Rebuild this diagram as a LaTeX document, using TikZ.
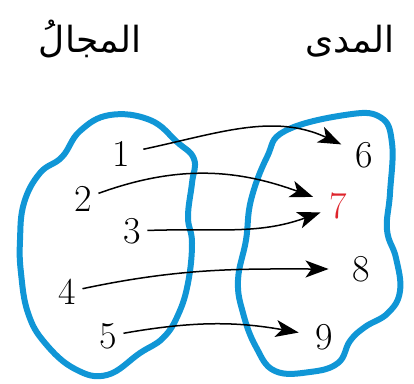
\documentclass[tikz,border=0pt]{standalone}
\usepackage{fontspec}
\newfontfamily\arabicfont[Script=Arabic]{DejaVu Sans}
\TeXXeTstate=1
\usepackage{tikz}
\usetikzlibrary{arrows.meta,positioning}
\definecolor{setblue}{RGB}{16,150,214}
\definecolor{elemred}{RGB}{222,36,44}
\tikzset{>={Stealth[length=23pt,width=17pt,inset=6pt]},x=1pt,y=1pt}
\tikzset{elem/.style={font=\fontsize{38}{40}\selectfont,inner sep=6pt}}
\tikzset{setname/.style={font=\fontsize{36}{40}\selectfont\arabicfont,anchor=base}}
\tikzset{blob/.style={draw=setblue,line width=6pt,line join=round}}

\begin{document}
\begin{tikzpicture}[line width=1.5pt]
    \useasboundingbox (0,0) rectangle (414,383);
    \draw[blob] plot[smooth cycle,tension=0.7] coordinates {
        (110,268) (150,263) (177,241) (194,224) (192,200) (188,166)
        (192,140) (188,100) (178,68) (163,45) (140,30)
        (107,8) (75,14) (45,40) (28,70) (21,110) (20,143)
        (24,180) (40,210) (62,226) (80,252)};
    \draw[blob] plot[smooth cycle,tension=0.7] coordinates {
        (345,268) (380,266) (392,240) (390,190) (387,153) (396,125)
        (400,92) (388,70) (365,56) (350,42) (338,20) (310,11)
        (275,12) (256,36) (243,70) (238,103) (246,143) (251,183)
        (267,226) (285,252)};
    \node[setname] (domain) at (90,330) {\beginR المجالُ\endR};
    \node[setname] (range) at (350,330) {\beginR المدى\endR};
    \node[elem] (n1) at (121,229) {1};
    \node[elem] (n2) at (83,184) {2};
    \node[elem] (n3) at (132,152) {3};
    \node[elem] (n4) at (67,91) {4};
    \node[elem] (n5) at (108,47) {5};
    \node[elem] (n6) at (364,228) {6};
    \node[elem,text=elemred] (n7) at (338,177) {7};
    \node[elem] (n8) at (361,114) {8};
    \node[elem] (n9) at (324,46) {9};
    \path[->]
        (n1) edge[out=12,in=155,shorten <=7pt,shorten >=8pt] (n6)
        (n2) edge[out=20,in=160,shorten >=10pt] (n7)
        (n3) edge[out=2,in=200,shorten >=2pt] (n7)
        (n4) edge[out=12,in=180,shorten >=17pt] (n8)
        (n5) edge[out=10,in=170,shorten >=10pt] (n9);
\end{tikzpicture}
\end{document}
